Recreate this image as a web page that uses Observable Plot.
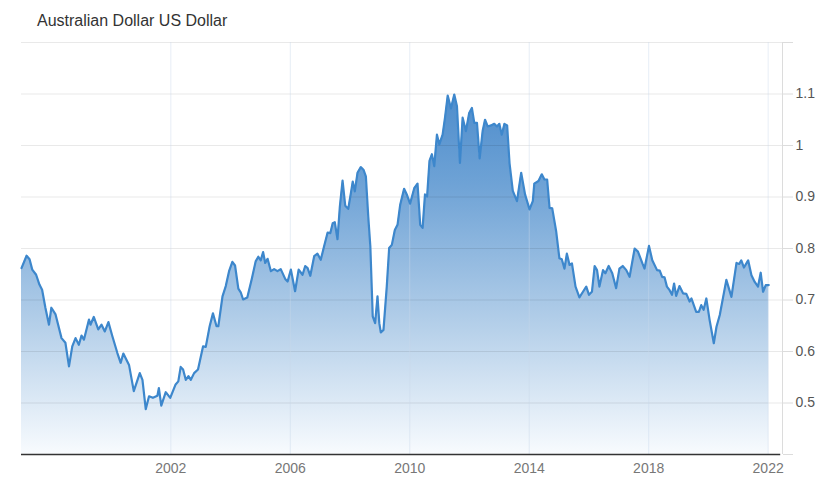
<!DOCTYPE html>
<html>
<head>
<meta charset="utf-8">
<script src="https://cdn.jsdelivr.net/npm/d3@7"></script>
<script src="https://cdn.jsdelivr.net/npm/@observablehq/plot@0.6"></script>
<style>
  html, body { margin: 0; padding: 0; background: #fff; }
  #title { height: 32px; box-sizing: border-box; padding: 12.5px 0 0 37px; font: 16px "Liberation Sans", Arial, sans-serif; line-height: 16px; color: #333; }
  #chart svg { display: block; }
</style>
</head>
<body>
<div id="title"></div>
<div id="chart"></div>
<script>
const title = "Australian Dollar US Dollar";

// decimal year of each observation
const years = [
  1997.00,1997.17,1997.27,1997.36,1997.49,1997.60,1997.69,1997.80,1997.92,1998.00,
  1998.14,1998.34,1998.47,1998.59,1998.70,1998.81,1998.92,1999.01,1999.09,1999.26,
  1999.31,1999.42,1999.57,1999.68,1999.79,1999.91,2000.04,2000.21,2000.32,2000.41,
  2000.60,2000.76,2000.96,2001.05,2001.16,2001.27,2001.40,2001.55,2001.60,2001.68,
  2001.83,2001.98,2002.16,2002.25,2002.33,2002.41,2002.50,2002.59,2002.67,2002.78,
  2002.91,2003.08,2003.17,2003.30,2003.41,2003.53,2003.59,2003.73,2003.84,2003.95,
  2004.06,2004.15,2004.26,2004.34,2004.42,2004.56,2004.71,2004.84,2004.93,2005.01,
  2005.09,2005.16,2005.24,2005.35,2005.46,2005.57,2005.68,2005.83,2005.91,2006.02,
  2006.16,2006.28,2006.41,2006.50,2006.58,2006.67,2006.80,2006.91,2007.02,2007.13,
  2007.25,2007.34,2007.42,2007.49,2007.58,2007.66,2007.75,2007.84,2007.94,2008.03,
  2008.09,2008.16,2008.25,2008.36,2008.45,2008.53,2008.61,2008.68,2008.76,2008.84,
  2008.92,2008.98,2009.03,2009.12,2009.23,2009.31,2009.40,2009.50,2009.59,2009.68,
  2009.81,2009.90,2010.01,2010.15,2010.26,2010.35,2010.43,2010.51,2010.58,2010.66,
  2010.74,2010.82,2010.91,2010.99,2011.10,2011.18,2011.27,2011.38,2011.49,2011.58,
  2011.68,2011.77,2011.88,2011.99,2012.08,2012.16,2012.25,2012.34,2012.44,2012.52,
  2012.61,2012.72,2012.83,2012.92,2013.00,2013.08,2013.17,2013.26,2013.34,2013.45,
  2013.59,2013.73,2013.86,2014.01,2014.12,2014.17,2014.31,2014.42,2014.51,2014.60,
  2014.68,2014.77,2014.90,2015.01,2015.09,2015.18,2015.26,2015.35,2015.43,2015.55,
  2015.68,2015.80,2015.91,2016.00,2016.10,2016.19,2016.27,2016.35,2016.47,2016.55,
  2016.66,2016.78,2016.91,2017.02,2017.13,2017.25,2017.36,2017.53,2017.64,2017.79,
  2017.86,2018.01,2018.12,2018.28,2018.37,2018.45,2018.53,2018.61,2018.70,2018.78,
  2018.85,2018.92,2019.03,2019.15,2019.26,2019.37,2019.43,2019.59,2019.68,2019.76,
  2019.84,2019.93,2020.04,2020.18,2020.27,2020.38,2020.60,2020.77,2020.94,2021.03,
  2021.10,2021.19,2021.33,2021.44,2021.55,2021.66,2021.75,2021.83,2021.92,2022.02
];

// AUD/USD rate
const rates = [
  0.762,0.786,0.779,0.759,0.749,0.730,0.720,0.685,0.652,0.685,
  0.672,0.626,0.617,0.571,0.610,0.626,0.613,0.631,0.623,0.662,
  0.652,0.667,0.643,0.652,0.639,0.657,0.630,0.597,0.578,0.596,
  0.574,0.523,0.558,0.545,0.488,0.513,0.510,0.514,0.529,0.495,
  0.521,0.510,0.536,0.542,0.570,0.565,0.545,0.552,0.545,0.558,
  0.565,0.610,0.609,0.649,0.674,0.649,0.649,0.707,0.727,0.756,
  0.774,0.767,0.722,0.715,0.701,0.705,0.741,0.775,0.784,0.777,
  0.793,0.772,0.780,0.756,0.760,0.756,0.760,0.741,0.736,0.759,
  0.717,0.759,0.749,0.766,0.762,0.747,0.785,0.790,0.778,0.804,
  0.831,0.830,0.849,0.851,0.818,0.882,0.932,0.883,0.877,0.908,
  0.930,0.911,0.947,0.958,0.953,0.940,0.862,0.804,0.668,0.655,
  0.707,0.655,0.637,0.642,0.726,0.801,0.807,0.836,0.846,0.885,
  0.916,0.905,0.887,0.917,0.926,0.846,0.840,0.905,0.901,0.970,
  0.983,0.960,1.021,1.002,1.021,1.054,1.097,1.072,1.099,1.076,
  0.966,1.054,1.028,1.063,1.073,1.044,1.044,0.975,1.028,1.050,
  1.037,1.039,1.042,1.037,1.042,1.021,1.042,1.039,0.966,0.912,
  0.892,0.947,0.905,0.876,0.892,0.926,0.931,0.944,0.934,0.934,
  0.879,0.878,0.834,0.781,0.779,0.761,0.790,0.768,0.771,0.726,
  0.705,0.716,0.726,0.710,0.716,0.766,0.758,0.726,0.758,0.752,
  0.766,0.752,0.723,0.761,0.766,0.758,0.745,0.800,0.794,0.771,
  0.761,0.805,0.777,0.758,0.757,0.745,0.744,0.726,0.719,0.710,
  0.732,0.708,0.727,0.713,0.712,0.697,0.703,0.677,0.677,0.690,
  0.681,0.703,0.661,0.616,0.648,0.671,0.739,0.706,0.772,0.770,
  0.777,0.763,0.777,0.748,0.735,0.726,0.753,0.716,0.729,0.729
];

const xTicks = [2002, 2006, 2010, 2014, 2018, 2022];
const yTicks = [0.4, 0.5, 0.6, 0.7, 0.8, 0.9, 1.0, 1.1, 1.2];
const yLabels = [0.5, 0.6, 0.7, 0.8, 0.9, 1.0, 1.1];
const xDomain = [1997.0, 2022.48];
const yDomain = [0.4, 1.2];

document.getElementById("title").textContent = title;

const data = years.map((x, i) => ({x, y: rates[i]}));

const W = 830, H = 456, mT = 10, mB = 34, mL = 21, mR = 48;

const chart = Plot.plot({
  width: W,
  height: H,
  marginTop: mT,
  marginBottom: mB,
  marginLeft: mL,
  marginRight: mR,
  style: {fontFamily: '"Liberation Sans", Arial, sans-serif', fontSize: "14px", background: "#fff", overflow: "visible"},
  x: {domain: xDomain, type: "linear", label: null},
  y: {domain: yDomain, type: "linear", label: null},
  marks: [
    Plot.areaY(data, {x: "x", y1: yDomain[0], y2: "y", fill: "url(#audGrad)"}),
    Plot.ruleY(yTicks.slice(1), {stroke: "#000", strokeOpacity: 0.085, strokeWidth: 1}),
    Plot.ruleX(xTicks, {stroke: "#c9d9ea", strokeOpacity: 0.45, strokeWidth: 1}),
    Plot.lineY(data, {x: "x", y: "y", stroke: "#3d87cc", strokeWidth: 2.2, strokeLinejoin: "round"}),
    Plot.ruleX([xDomain[1]], {stroke: "#dcdcdc", strokeWidth: 1}),
    Plot.axisY(yTicks, {
      anchor: "right", label: null, tickSize: 10, tickPadding: 3, stroke: "#dcdcdc", color: "#555",
      tickFormat: d => yLabels.some(v => Math.abs(v - d) < 1e-9) ? String(+d.toFixed(1)) : ""
    }),
    Plot.ruleY([yDomain[0]], {x1: xDomain[0], x2: 2022.42, stroke: "#333", strokeWidth: 1.6}),
    Plot.axisX(xTicks, {anchor: "bottom", label: null, tickSize: 0, tickPadding: 9, color: "#777", tickFormat: d => String(d)})
  ]
});

// gradient definition for the area fill
const NS = "http://www.w3.org/2000/svg";
const svg = chart.tagName.toLowerCase() === "svg" ? chart : chart.querySelector("svg");
const defs = document.createElementNS(NS, "defs");
const grad = document.createElementNS(NS, "linearGradient");
grad.setAttribute("id", "audGrad");
grad.setAttribute("gradientUnits", "userSpaceOnUse");
grad.setAttribute("x1", "0"); grad.setAttribute("x2", "0");
grad.setAttribute("y1", String(mT)); grad.setAttribute("y2", String(H - mB));
[["0", "#3b80c6"], ["0.35", "#6fa3d6"], ["0.7", "#b7d1ea"], ["1", "#f8fbfe"]].forEach(([o, c]) => {
  const s = document.createElementNS(NS, "stop");
  s.setAttribute("offset", o);
  s.setAttribute("stop-color", c);
  grad.appendChild(s);
});
defs.appendChild(grad);
svg.insertBefore(defs, svg.firstChild);

document.getElementById("chart").appendChild(chart);
</script>
</body>
</html>
